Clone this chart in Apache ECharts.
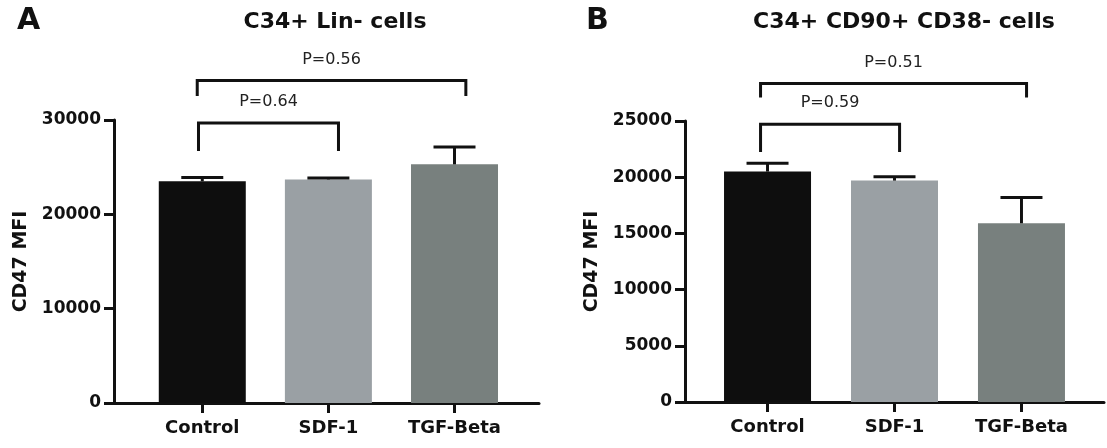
<!DOCTYPE html>
<html>
<head>
<meta charset="utf-8">
<script src="https://cdn.jsdelivr.net/npm/echarts@6/dist/echarts.min.js"></script>
<style>
  html, body { margin: 0; padding: 0; background: #fff; }
  #chart { width: 1107px; height: 448px; }
</style>
</head>
<body>
<div id="chart"></div>
<script>
// 数据
const categories = ['Control', 'SDF-1', 'TGF-Beta'];
const barColors = ['#0e0e0e', '#9aa0a4', '#78807e'];

const linMean = [23500, 23700, 25300];
const linErr = [400, 150, 1850];

const cd90Mean = [20500, 19700, 15900];
const cd90Err = [750, 350, 2300];

// 比较括号: [左, 右, 横线值, 竖线底值, 标签]
const linBrackets = [
  [-0.03, 1.08, 29680, 26710, 'P=0.64'],
  [-0.04, 2.09, 34190, 32540, 'P=0.56'],
];
const cd90Brackets = [
  [-0.055, 1.04, 24710, 22250, 'P=0.59'],
  [-0.055, 2.04, 28340, 27100, 'P=0.51'],
];

const FONT = 'DejaVu Sans';
const myChart = echarts.init(document.getElementById('chart'));

function xAxisOf(gridIndex, min, max) {
  return {
    type: 'value',
    gridIndex: gridIndex,
    min: min,
    max: max,
    splitLine: { show: false },
    axisLine: { show: true, onZero: false, lineStyle: { color: '#111', width: 3 } },
    axisTick: {
      show: true, length: 10, customValues: [0, 1, 2],
      lineStyle: { color: '#111', width: 3 },
    },
    axisLabel: {
      customValues: [0, 1, 2],
      formatter: (v) => categories[Math.round(v)],
      fontFamily: FONT, fontWeight: 'bold', fontSize: 18, color: '#111', margin: 16,
    },
  };
}

function yAxisOf(gridIndex, max, interval) {
  return {
    type: 'value',
    gridIndex: gridIndex,
    min: 0,
    max: max,
    interval: interval,
    name: 'CD47 MFI',
    nameLocation: 'middle',
    nameRotate: 90,
    nameGap: 83,
    nameTextStyle: { fontFamily: FONT, fontWeight: 'bold', fontSize: 19, color: '#111' },
    splitLine: { show: false },
    axisLine: { show: true, onZero: false, lineStyle: { color: '#111', width: 3 } },
    axisTick: { show: true, length: 10, lineStyle: { color: '#111', width: 3 } },
    axisLabel: {
      formatter: (v) => String(v),
      fontFamily: FONT, fontWeight: 'bold', fontSize: 17, color: '#111', margin: 13,
    },
  };
}

function barSeries(idx, mean) {
  return {
    type: 'bar',
    xAxisIndex: idx,
    yAxisIndex: idx,
    barWidth: 87,
    data: mean.map((v, i) => [i, v]),
    itemStyle: { color: (p) => barColors[p.dataIndex] },
    silent: true,
  };
}

function errSeries(idx, mean, err) {
  return {
    type: 'custom',
    xAxisIndex: idx,
    yAxisIndex: idx,
    z: 3,
    data: mean.map((v, i) => [i, v, err[i]]),
    renderItem: function (params, api) {
      const low = api.coord([api.value(0), api.value(1)]);
      const high = api.coord([api.value(0), api.value(1) + api.value(2)]);
      const style = { stroke: '#111', lineWidth: 3 };
      return {
        type: 'group',
        children: [
          { type: 'line', shape: { x1: low[0], y1: low[1], x2: high[0], y2: high[1] }, style: style },
          { type: 'line', shape: { x1: high[0] - 21, y1: high[1], x2: high[0] + 21, y2: high[1] }, style: style },
        ],
      };
    },
  };
}

function bracketSeries(idx, brackets) {
  return {
    type: 'custom',
    xAxisIndex: idx,
    yAxisIndex: idx,
    clip: false,
    data: brackets.map((b) => b.slice(0, 4)),
    renderItem: function (params, api) {
      const a = api.coord([api.value(0), api.value(3)]);
      const b = api.coord([api.value(0), api.value(2)]);
      const c = api.coord([api.value(1), api.value(2)]);
      const d = api.coord([api.value(1), api.value(3)]);
      return {
        type: 'group',
        children: [
          {
            type: 'polyline',
            shape: { points: [a, b, c, d] },
            style: { stroke: '#111', lineWidth: 3, fill: null },
          },
          {
            type: 'text',
            x: (b[0] + c[0]) / 2,
            y: b[1] - 13,
            style: {
              text: brackets[params.dataIndex][4],
              fontFamily: FONT, fontSize: 16, fill: '#222',
              align: 'center', verticalAlign: 'bottom',
            },
          },
        ],
      };
    },
  };
}

myChart.setOption({
  backgroundColor: '#fff',
  animation: false,
  title: [
    { text: 'A', left: 12, top: 1, textStyle: { fontFamily: FONT, fontWeight: 'bold', fontSize: 30, color: '#111' } },
    { text: 'B', left: 581, top: 1, textStyle: { fontFamily: FONT, fontWeight: 'bold', fontSize: 30, color: '#111' } },
    { text: 'C34+ Lin- cells', left: 330, top: 6, textAlign: 'center', textStyle: { fontFamily: FONT, fontWeight: 'bold', fontSize: 22, color: '#111' } },
    { text: 'C34+ CD90+ CD38- cells', left: 899, top: 6, textAlign: 'center', textStyle: { fontFamily: FONT, fontWeight: 'bold', fontSize: 22, color: '#111' } },
  ],
  grid: [
    { left: 114, top: 120, width: 425, height: 283 },
    { left: 685, top: 121, width: 419, height: 281 },
  ],
  xAxis: [xAxisOf(0, -0.7, 2.67), xAxisOf(1, -0.65, 2.65)],
  yAxis: [yAxisOf(0, 30000, 10000), yAxisOf(1, 25000, 5000)],
  series: [
    barSeries(0, linMean),
    errSeries(0, linMean, linErr),
    bracketSeries(0, linBrackets),
    barSeries(1, cd90Mean),
    errSeries(1, cd90Mean, cd90Err),
    bracketSeries(1, cd90Brackets),
  ],
});
</script>
</body>
</html>
